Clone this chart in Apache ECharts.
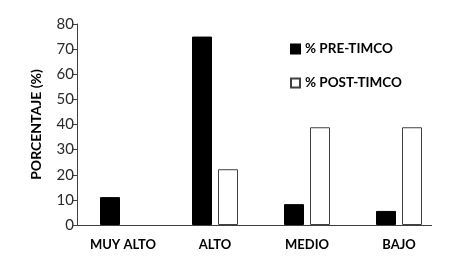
<!DOCTYPE html>
<html><head><meta charset="utf-8">
<script src="https://cdn.jsdelivr.net/npm/echarts@6/dist/echarts.min.js"></script>
<style>html,body{margin:0;padding:0;background:#fff}#c{width:457px;height:274px}</style>
</head><body><div id="c"></div>
<script>
const categories = ['MUY ALTO', 'ALTO', 'MEDIO', 'BAJO'];
const preTimco = [11.1, 75.0, 8.3, 5.6];
const postTimco = [null, 22.2, 38.9, 38.9];
const yTicks = {min: 0, max: 80, interval: 10};
const seriesNames = ['% PRE-TIMCO', '% POST-TIMCO'];

const chart = echarts.init(document.getElementById('c'));
const FONT = 'Lato';
chart.setOption({
  animation: false,
  textStyle: {fontFamily: FONT},
  grid: {left: 77, right: 12, top: 24, bottom: 49},
  legend: {
    orient: 'vertical', left: 285, top: 37, itemWidth: 9, itemHeight: 9, itemGap: 20,
    icon: 'rect',
    textStyle: {fontFamily: FONT, fontWeight: 'bold', fontSize: 13.5, color: '#000'},
    data: seriesNames
  },
  xAxis: {
    type: 'category', data: categories,
    axisLine: {show: false},
    axisTick: {show: false},
    axisLabel: {fontFamily: FONT, fontWeight: 'bold', fontSize: 13, color: '#000', margin: 13}
  },
  yAxis: {
    type: 'value', min: yTicks.min, max: yTicks.max, interval: yTicks.interval,
    name: 'PORCENTAJE (%)', nameLocation: 'middle', nameGap: 34,
    nameTextStyle: {fontFamily: FONT, fontWeight: 'bold', fontSize: 14, color: '#000'},
    axisLine: {show: true, lineStyle: {color: '#404040', width: 1}},
    axisTick: {show: true, length: 5, lineStyle: {color: '#404040'}},
    splitLine: {show: false},
    axisLabel: {fontFamily: FONT, fontSize: 15, color: '#2a2a2a', margin: 3}
  },
  graphic: [{
    type: 'line', z: 10,
    shape: {x1: 72, y1: 225.5, x2: 432, y2: 225.5},
    style: {stroke: '#404040', lineWidth: 1}
  }],
  series: [
    {name: seriesNames[0], type: 'bar', data: preTimco, barWidth: 20, barGap: '30%',
     itemStyle: {color: '#000', borderColor: '#000', borderWidth: 1}},
    {name: seriesNames[1], type: 'bar', data: postTimco, barWidth: 20,
     itemStyle: {color: '#fff', borderColor: '#404040', borderWidth: 1}}
  ]
});
</script></body></html>
